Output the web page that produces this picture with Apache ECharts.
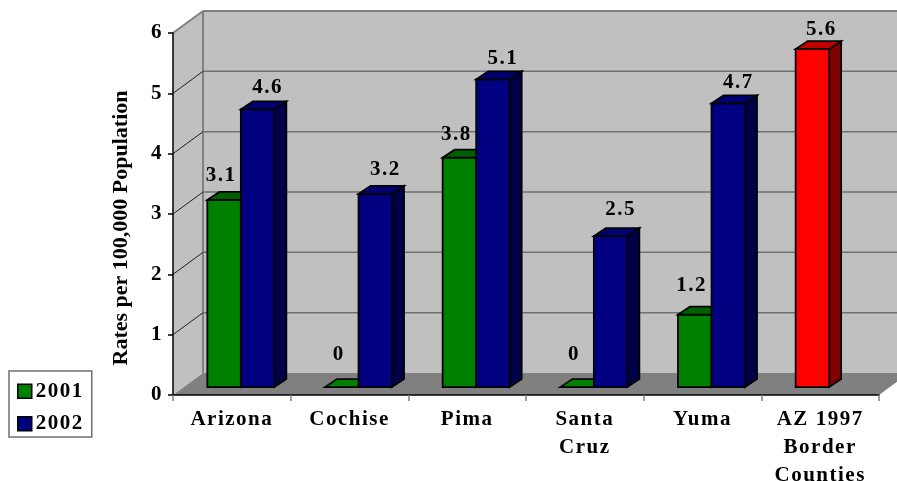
<!DOCTYPE html>
<html>
<head>
<meta charset="utf-8">
<style>html,body{margin:0;padding:0;background:#fff}#c{width:897px;height:481px}</style>
<script src="https://cdn.jsdelivr.net/npm/echarts@6/dist/echarts.min.js"></script>
</head>
<body>
<div id="c"></div>
<script>
const categories = ['Arizona', 'Cochise', 'Pima', 'Santa\nCruz', 'Yuma', 'AZ 1997\nBorder\nCounties'];
const values2001 = [3.1, 0, 3.8, 0, 1.2, 5.6];
const values2002 = [4.6, 3.2, 5.1, 2.5, 4.7, null];
const yTicks = [0, 1, 2, 3, 4, 5, 6];
const yTitle = 'Rates per 100,000 Population';
const highlightedCategory = 5;

// The reference's labels are slightly tracked, its axis title is not.
['fillText', 'measureText'].forEach(function (method) {
  const native = CanvasRenderingContext2D.prototype[method];
  CanvasRenderingContext2D.prototype[method] = function (text) {
    this.letterSpacing = text === yTitle ? '0px' : '1.5px';
    return native.apply(this, arguments);
  };
});

const FONT = '"Liberation Serif","Times New Roman",serif';
const FONT_SIZE = 21;
const WALL_DX = 30, WALL_DY = -22;
const BAR_DX = 9, BAR_DY = -8, DEPTH_DX = 12, DEPTH_DY = -8;
const GREEN = { front: '#008000', top: '#006000', side: '#004000' };
const NAVY = { front: '#000080', top: '#000070', side: '#00004a' };
const RED = { front: '#ff0000', top: '#c00000', side: '#800000' };

function poly(points, fill, stroke, width, z2) {
  return { type: 'polygon', z2: z2 || 0, shape: { points: points },
    style: { fill: fill, stroke: stroke || null, lineWidth: width || 0 } };
}
function line(x1, y1, x2, y2, stroke, width) {
  return { type: 'line', z2: 2, shape: { x1: x1, y1: y1, x2: x2, y2: y2 },
    style: { stroke: stroke, lineWidth: width } };
}

function renderWalls(params, api) {
  const tick = api.value(0);
  const xl = api.coord([0, 0])[0] - api.size([1, 0])[0] / 2;
  const xr = xl + api.size([1, 0])[0] * categories.length;
  const y = api.coord([0, tick])[1];
  const children = [];
  if (tick === 0) {
    const top = api.coord([0, yTicks[yTicks.length - 1]])[1];
    children.push(poly([[xl + WALL_DX, top + WALL_DY], [xr + WALL_DX, top + WALL_DY], [xr + WALL_DX, y + WALL_DY], [xl + WALL_DX, y + WALL_DY]], '#c0c0c0'));
    children.push(poly([[xl, top], [xl + WALL_DX, top + WALL_DY], [xl + WALL_DX, y + WALL_DY], [xl, y]], '#c0c0c0'));
    children.push(poly([[xl, y], [xl + WALL_DX, y + WALL_DY], [xr + WALL_DX, y + WALL_DY], [xr, y]], '#808080'));
    children.push(line(xl + WALL_DX, top + WALL_DY, xl + WALL_DX, y + WALL_DY, '#808080', 2));
  } else if (tick === yTicks[yTicks.length - 1]) {
    children.push(line(xl + WALL_DX, y + WALL_DY, xr + WALL_DX, y + WALL_DY, '#808080', 2));
    children.push(line(xl, y, xl + WALL_DX, y + WALL_DY, '#808080', 2));
  } else {
    children.push(line(xl + WALL_DX, y + WALL_DY, xr + WALL_DX, y + WALL_DY, '#707070', 1.5));
    children.push(line(xl, y, xl + WALL_DX, y + WALL_DY, '#202020', 1));
  }
  return { type: 'group', children: children };
}

function makeBarRenderer(slot, palette, labelDx) {
  return function (params, api) {
    const cat = api.value(0);
    const raw = api.value(1);
    if (raw === null || isNaN(raw)) return null;
    const band = api.size([1, 0])[0];
    const w = band * 0.285;
    const centre = api.coord([cat, 0])[0] + BAR_DX;
    const x0 = slot === 0 ? centre - w : centre;
    const x1 = x0 + w;
    const yb = api.coord([cat, 0])[1] + BAR_DY;
    const yt = api.coord([cat, raw])[1] + BAR_DY;
    const highlighted = cat === highlightedCategory;
    const c = highlighted ? RED : palette;
    const stroke = 1.75;
    const children = [];
    if (raw > 0) {
      children.push(poly([[x1, yb], [x1 + DEPTH_DX, yb + DEPTH_DY], [x1 + DEPTH_DX, yt + DEPTH_DY], [x1, yt]], c.side, '#000', stroke));
      children.push(poly([[x0, yb], [x1, yb], [x1, yt], [x0, yt]], c.front, '#000', stroke));
    }
    children.push(poly([[x0, yt], [x1, yt], [x1 + DEPTH_DX, yt + DEPTH_DY], [x0 + DEPTH_DX, yt + DEPTH_DY]], raw > 0 ? c.top : c.front, '#000', stroke));
    children.push({ type: 'text', z2: 5, style: {
      text: String(raw), x: (x0 + x1) / 2 + (highlighted ? 9 : labelDx), y: yt - 32 + raw * 2.3,
      align: 'center', verticalAlign: 'middle',
      fontFamily: FONT, fontWeight: 'bold', fontSize: FONT_SIZE, fill: '#000' } });
    return { type: 'group', children: children };
  };
}

const chart = echarts.init(document.getElementById('c'), null, { renderer: 'canvas' });
chart.setOption({
  animation: false,
  backgroundColor: '#fff',
  grid: { left: 173, right: 18, top: 33, bottom: 86, outerBoundsMode: 'none' },
  legend: {
    data: ['2001', '2002'], orient: 'vertical', left: 9, top: 371,
    padding: [9, 8, 2, 8], itemGap: 10, itemWidth: 14, itemHeight: 14,
    backgroundColor: '#fff', borderColor: '#707070', borderWidth: 1.5, borderRadius: 0,
    icon: 'rect', selectedMode: false, itemStyle: { borderColor: '#000', borderWidth: 1.5 },
    textStyle: { fontFamily: FONT, fontWeight: 'bold', fontSize: FONT_SIZE, color: '#000', padding: [0, 0, 0, -1] }
  },
  xAxis: {
    type: 'category', data: categories, z: 5,
    axisLine: { show: true, lineStyle: { color: '#000', width: 1.5 } },
    axisTick: { show: true, alignWithLabel: false, length: 6, lineStyle: { color: '#808080', width: 1.5 } },
    axisLabel: { interval: 0, margin: 10.5, fontFamily: FONT, fontWeight: 'bold', fontSize: FONT_SIZE, color: '#000', lineHeight: 28 }
  },
  yAxis: {
    type: 'value', min: 0, max: 6, interval: 1, z: 5,
    name: yTitle, nameLocation: 'middle', nameGap: 40, nameRotate: 90,
    nameTextStyle: { fontFamily: FONT, fontWeight: 'bold', fontSize: 22, color: '#000', padding: [0, 28, 0, 0] },
    axisLine: { show: true, lineStyle: { color: '#000', width: 1.5 } },
    axisTick: { show: true, length: 5, lineStyle: { color: '#000', width: 1.5 } },
    splitLine: { show: false },
    axisLabel: { margin: 10, fontFamily: FONT, fontWeight: 'bold', fontSize: FONT_SIZE, color: '#000' }
  },
  series: [
    { name: 'walls', type: 'custom', silent: true, z: 1, renderItem: renderWalls,
      data: yTicks.map(function (t) { return [t]; }), encode: { x: -1, y: 0 }, tooltip: { show: false } },
    { name: '2001', type: 'custom', z: 3, renderItem: makeBarRenderer(0, GREEN, -3),
      itemStyle: { color: GREEN.front },
      data: values2001.map(function (v, i) { return [i, v]; }), encode: { x: 0, y: 1 } },
    { name: '2002', type: 'custom', z: 3, renderItem: makeBarRenderer(1, NAVY, 10),
      itemStyle: { color: NAVY.front },
      data: values2002.map(function (v, i) { return [i, v]; }), encode: { x: 0, y: 1 } }
  ]
});
</script>
</body>
</html>
